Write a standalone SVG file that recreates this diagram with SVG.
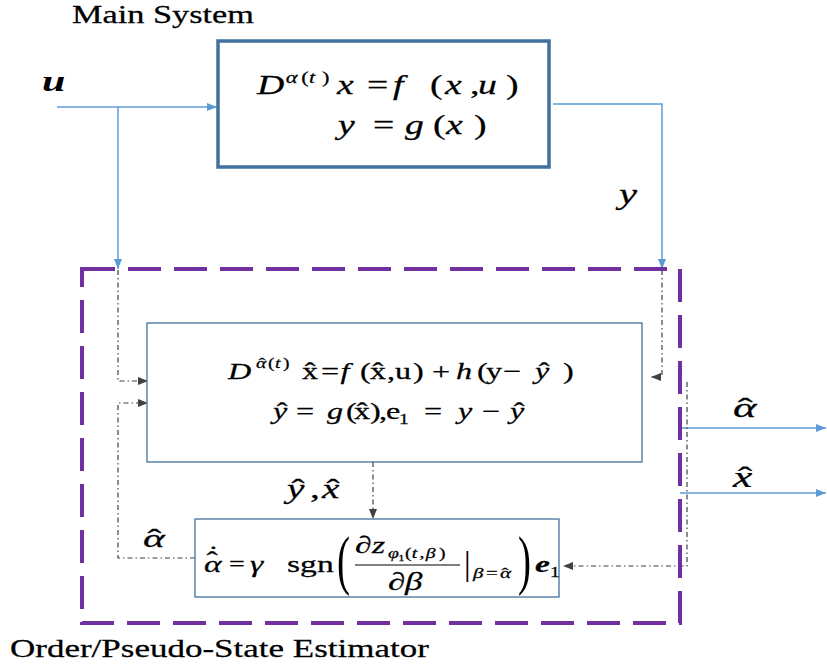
<svg xmlns="http://www.w3.org/2000/svg" width="827" height="668" viewBox="0 0 827 668" font-family="'Liberation Serif', serif">
<defs>
<style>
.i{font-style:italic}
.box{fill:#fff;stroke:#41719C}
.blue{fill:none;stroke:#5B9BD5;stroke-width:1.5}
.dd{fill:none;stroke:#404040;stroke-width:1.2;stroke-dasharray:5 3 1.5 3}
.m{stroke:#000;stroke-width:0.25}
</style>
<marker id="ab" markerUnits="userSpaceOnUse" markerWidth="11" markerHeight="9" refX="10" refY="4" orient="auto"><path d="M0,0 L10,4 L0,8 z" fill="#5B9BD5"/></marker>
<marker id="ad" markerUnits="userSpaceOnUse" markerWidth="11" markerHeight="9" refX="10" refY="4" orient="auto"><path d="M0,0 L10,4 L0,8 z" fill="#404040"/></marker>
</defs>
<rect width="827" height="668" fill="#fff"/>

<g id="connectors">
<path class="blue" d="M57 107 H217" marker-end="url(#ab)"/>
<path class="blue" d="M118 107 V269" marker-end="url(#ab)"/>
<path class="blue" d="M553 104 H662 V269" marker-end="url(#ab)"/>
<path class="blue" d="M680 428 H826" marker-end="url(#ab)"/>
<path class="blue" d="M680 493 H826" marker-end="url(#ab)"/>
<path class="dd" d="M118 270 V381 H148" marker-end="url(#ad)"/>
<path class="dd" d="M195 558 H118 V403 H148" marker-end="url(#ad)"/>
<path class="dd" d="M662 270 V377 H651" marker-end="url(#ad)"/>
<path class="dd" d="M687 382 V566 H563" marker-end="url(#ad)"/>
<path class="dd" d="M373 462 V519" marker-end="url(#ad)"/>
</g>

<g id="estimator-frame">
<rect x="82" y="269" width="598" height="354" fill="none" stroke="#7030A0" stroke-width="4" stroke-dasharray="33 13"/>
<text class="m" transform="translate(10 657) scale(1.4 1)" font-size="25">Order/Pseudo-State Estimator</text>
</g>

<g id="main-system">
<text class="m" transform="translate(72 23) scale(1.4 1)" font-size="24.5">Main System</text>
<rect class="box" x="218" y="41" width="331" height="126" stroke-width="3.5"/>
<text class="m" transform="translate(257 94) scale(1.4 1)" font-size="27"><tspan class="i" x="0" y="0">D</tspan><tspan class="i" x="20.5" y="-11" font-size="16">α</tspan><tspan x="31.6" y="-11" font-size="16">(</tspan><tspan class="i" x="37.2" y="-11" font-size="16">t</tspan><tspan x="46.4" y="-11" font-size="16">)</tspan><tspan class="i" x="57.1" y="0">x</tspan><tspan x="78.6" y="0">=</tspan><tspan class="i" x="97.1" y="0">f</tspan><tspan x="123.6" y="0">(</tspan><tspan class="i" x="134.3" y="0">x</tspan><tspan x="152.1" y="0">,</tspan><tspan class="i" x="157.9" y="0">u</tspan><tspan x="177.9" y="0">)</tspan></text>
<text class="m" transform="translate(338 134) scale(1.4 1)" font-size="27"><tspan class="i" x="0" y="0">y</tspan><tspan x="25" y="0">=</tspan><tspan class="i" x="47.9" y="0">g</tspan><tspan x="67.9" y="0">(</tspan><tspan class="i" x="77.1" y="0">x</tspan><tspan x="97.1" y="0">)</tspan></text>
</g>

<g id="observer">
<rect class="box" x="147" y="323" width="495" height="139" stroke-width="1.3"/>
<text class="m" transform="translate(228 379) scale(1.4 1)" font-size="23"><tspan class="i" x="0" y="0">D</tspan><tspan class="i" x="20" y="-11" font-size="14">α</tspan><tspan x="22" y="-11" font-size="14">ˆ</tspan><tspan x="28.6" y="-11" font-size="14">(</tspan><tspan class="i" x="33.6" y="-11" font-size="14">t</tspan><tspan x="39.3" y="-11" font-size="14">)</tspan><tspan x="52.9" y="0">x</tspan><tspan x="54.8" y="0">ˆ</tspan><tspan x="66.5" y="0">=</tspan><tspan class="i" x="80.4" y="0">f</tspan><tspan x="94.3" y="0">(</tspan><tspan x="101.4" y="0">x</tspan><tspan x="103.3" y="0">ˆ</tspan><tspan x="113.6" y="0">,</tspan><tspan x="119.3" y="0">u</tspan><tspan x="132.1" y="0">)</tspan><tspan x="145.7" y="0">+</tspan><tspan class="i" x="162.9" y="0">h</tspan><tspan x="177.9" y="0">(</tspan><tspan x="184.3" y="0">y</tspan><tspan x="196.4" y="0">−</tspan><tspan class="i" x="219.3" y="0">y</tspan><tspan x="222" y="0">ˆ</tspan><tspan x="239.3" y="0">)</tspan></text>
<text class="m" transform="translate(273 419) scale(1.4 1)" font-size="23"><tspan class="i" x="0" y="0">y</tspan><tspan x="2.7" y="0">ˆ</tspan><tspan x="16.4" y="0">=</tspan><tspan class="i" x="38.6" y="0">g</tspan><tspan x="52.1" y="0">(</tspan><tspan x="57.9" y="0">x</tspan><tspan x="59.8" y="0">ˆ</tspan><tspan x="69.3" y="0">)</tspan><tspan x="75.7" y="0">,</tspan><tspan x="80.7" y="0">e</tspan><tspan x="90" y="5" font-size="14">1</tspan><tspan x="107.9" y="0">=</tspan><tspan class="i" x="132.1" y="0">y</tspan><tspan x="149.3" y="0">−</tspan><tspan class="i" x="169.3" y="0">y</tspan><tspan x="172" y="0">ˆ</tspan></text>
</g>

<g id="order-estimator">
<rect class="box" x="195" y="519" width="364" height="78" stroke-width="1.3"/>
<text class="m" transform="translate(204 572) scale(1.4 1)" font-size="24"><tspan class="i" x="0" y="0">α</tspan><tspan x="1.8" y="-4">ˆ</tspan><tspan x="2.6" y="-10">˙</tspan><tspan x="17.9" y="-1" font-size="20">=</tspan><tspan class="i" x="32.9" y="0">γ</tspan><tspan x="59.3" y="0">sgn</tspan></text>
<text x="337" y="582" font-size="66" textLength="13" lengthAdjust="spacingAndGlyphs">(</text>
<text class="m" transform="translate(355 553) scale(1.4 1)" font-size="24"><tspan x="0" y="0">∂</tspan><tspan class="i" x="12.1" y="0">z</tspan><tspan class="i" x="23.6" y="5" font-size="14">φ</tspan><tspan x="30.9" y="8" font-size="9">1</tspan><tspan x="35.7" y="5" font-size="14">(</tspan><tspan class="i" x="40.5" y="5" font-size="14">t</tspan><tspan x="46" y="5" font-size="14">,</tspan><tspan class="i" x="50.5" y="5" font-size="14">β</tspan><tspan x="60" y="5" font-size="14">)</tspan></text>
<line x1="355" y1="565" x2="460" y2="565" stroke="#000" stroke-width="1.2"/>
<text class="m" transform="translate(388 590) scale(1.4 1)" font-size="25"><tspan x="0" y="0">∂</tspan><tspan class="i" x="12.1" y="0">β</tspan></text>
<text x="464" y="575" font-size="33">|</text>
<text class="m" transform="translate(473 578) scale(1.4 1)" font-size="15"><tspan class="i" x="0" y="0">β</tspan><tspan x="9.3" y="0">=</tspan><tspan class="i" x="19.3" y="0">α</tspan><tspan x="20.3" y="0">ˆ</tspan></text>
<text x="518" y="582" font-size="66" textLength="13" lengthAdjust="spacingAndGlyphs">)</text>
<text class="m" transform="translate(535 572) scale(1.4 1)" font-size="24"><tspan class="i" font-weight="bold" x="0" y="0">e</tspan><tspan x="10.7" y="5" font-size="14">1</tspan></text>
</g>

<g id="labels">
<text class="i" transform="translate(42 91) scale(1.4 1)" font-size="30" font-weight="bold">u</text>
<text class="i m" transform="translate(619 204) scale(1.4 1)" font-size="29">y</text>
<text class="m" transform="translate(287 498) scale(1.4 1)" font-size="28"><tspan class="i" x="0" y="0">y</tspan><tspan x="3.2" y="0">ˆ</tspan><tspan x="16.5" y="0">,</tspan><tspan class="i" x="25" y="0">x</tspan><tspan x="28.2" y="0">ˆ</tspan></text>
<text class="m" transform="translate(143 547) scale(1.6 1)" font-size="26"><tspan class="i" x="0" y="0">α</tspan><tspan x="2.8" y="0">ˆ</tspan></text>
<text class="m" transform="translate(733 417) scale(1.6 1)" font-size="28"><tspan class="i" x="0" y="0">α</tspan><tspan x="3" y="0">ˆ</tspan></text>
<text class="m" transform="translate(733 487) scale(1.5 1)" font-size="29"><tspan class="i" x="0" y="0">x</tspan><tspan x="3.2" y="0">ˆ</tspan></text>
</g>
</svg>
